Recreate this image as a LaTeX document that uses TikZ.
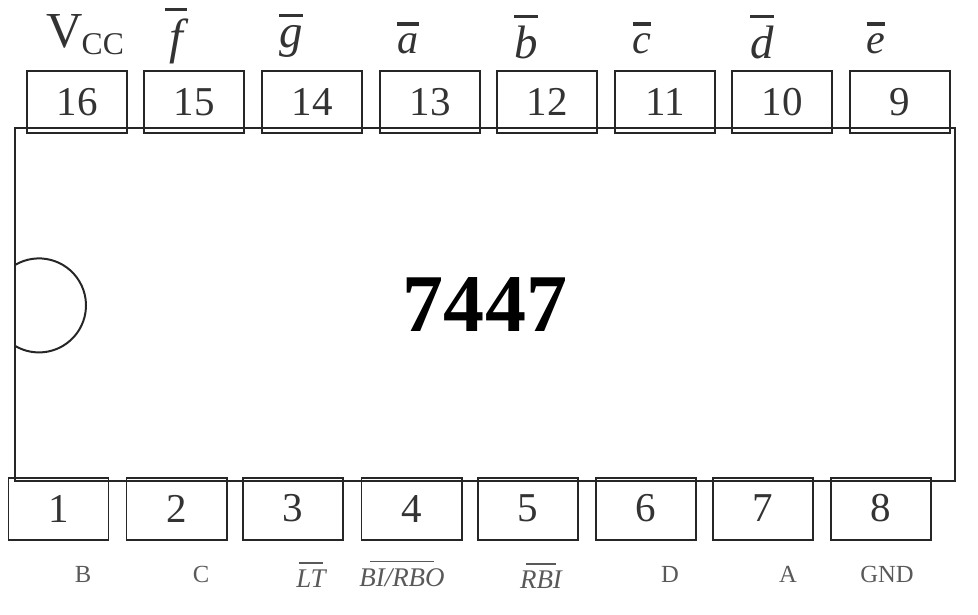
\documentclass[tikz,border=0pt]{standalone}
\usepackage{fontspec}
\setmainfont{Liberation Serif}
\newcommand{\pinbar}[1]{\vbox{\hrule height 2.6pt\kern 6.5pt\hbox{#1}}}
\newcommand{\lowbar}[2]{\vbox{\offinterlineskip\halign{\hfil##\hfil\cr\vrule width #1 height 1.2pt\cr\noalign{\kern 5pt}#2\cr}}}
\tikzset{
	chipline/.style={draw=black!85,line width=1.7pt,inner sep=0pt},
	pinbox/.style={chipline,text=black!80,minimum width=3cm,minimum height=1.86cm,font=\fontsize{35}{35}\selectfont},
	topname/.style={inner sep=0pt,text=black!80,font=\fontsize{36}{36}\selectfont\itshape},
	bigname/.style={topname,font=\fontsize{40}{40}\selectfont\itshape},
	lowname/.style={inner sep=0pt,text=black!65,font=\fontsize{21}{21}\selectfont},
	lowbarname/.style={lowname,font=\fontsize{23}{23}\selectfont\itshape}
}
\begin{document}
\begin{tikzpicture}[x=0.03cm,y=-0.03cm]
		\useasboundingbox (0,0) rectangle (978,614);
		\node[chipline,minimum width=28.2cm,minimum height=10.59cm,font=\fontsize{70}{70}\selectfont\bfseries] (chip) at (485,304.5) {7447};
		\draw[chipline] (15,265) arc[start angle=-120.7,end angle=120.7,radius=47];
		\node[pinbox] (pin16) at (77,102) {16};
		\node[pinbox] (pin15) at (194,102) {15};
		\node[pinbox] (pin14) at (312,102) {14};
		\node[pinbox] (pin13) at (430,102) {13};
		\node[pinbox] (pin12) at (547,102) {12};
		\node[pinbox] (pin11) at (665,102) {11};
		\node[pinbox] (pin10) at (782,102) {10};
		\node[pinbox] (pin9) at (900,102) {9};
		\node[pinbox] (pin1) at (58.5,508.5) {1};
		\node[pinbox] (pin2) at (176.5,508.5) {2};
		\node[pinbox] (pin3) at (293,508.5) {3};
		\node[pinbox] (pin4) at (411.5,508.5) {4};
		\node[pinbox] (pin5) at (528,508.5) {5};
		\node[pinbox] (pin6) at (646,508.5) {6};
		\node[pinbox] (pin7) at (763,508.5) {7};
		\node[pinbox] (pin8) at (881,508.5) {8};
		\node[topname,anchor=base west,font=\fontsize{43}{43}\selectfont] (vcc) at (46,47) {V\kern-0.8pt\lower 6.8pt\hbox{\fontsize{27}{27}\selectfont CC}};
		\node[bigname,anchor=base,font=\fontsize{42}{42}\selectfont\itshape] (fbar) at (176,53) {\pinbar{\makebox[0.45em]{f}}};
		\node[bigname,anchor=base] (gbar) at (291,47) {\pinbar{g}};
		\node[topname,anchor=base] (abar) at (408,53) {\pinbar{a}};
		\node[bigname,anchor=base] (bbar) at (526,58) {\pinbar{b}};
		\node[topname,anchor=base] (cbar) at (642,53) {\pinbar{c}};
		\node[bigname,anchor=base] (dbar) at (762,58) {\pinbar{d}};
		\node[topname,anchor=base] (ebar) at (876,53) {\pinbar{e}};
		\node[lowname,anchor=base] (nameB) at (83,582) {B};
		\node[lowname,anchor=base] (nameC) at (201,582) {C};
		\node[lowbarname,anchor=base] (nameLT) at (311,587) {\lowbar{21pt}{LT}};
		\node[lowbarname,anchor=base] (nameBI) at (402,586) {\lowbar{55pt}{BI/RBO}};
		\node[lowbarname,anchor=base] (nameRBI) at (541,588) {\lowbar{26pt}{RBI}};
		\node[lowname,anchor=base] (nameD) at (670,582) {D};
		\node[lowname,anchor=base] (nameA) at (788,582) {A};
		\node[lowname,anchor=base] (nameGND) at (887,582) {GND};
	\end{tikzpicture}
\end{document}
